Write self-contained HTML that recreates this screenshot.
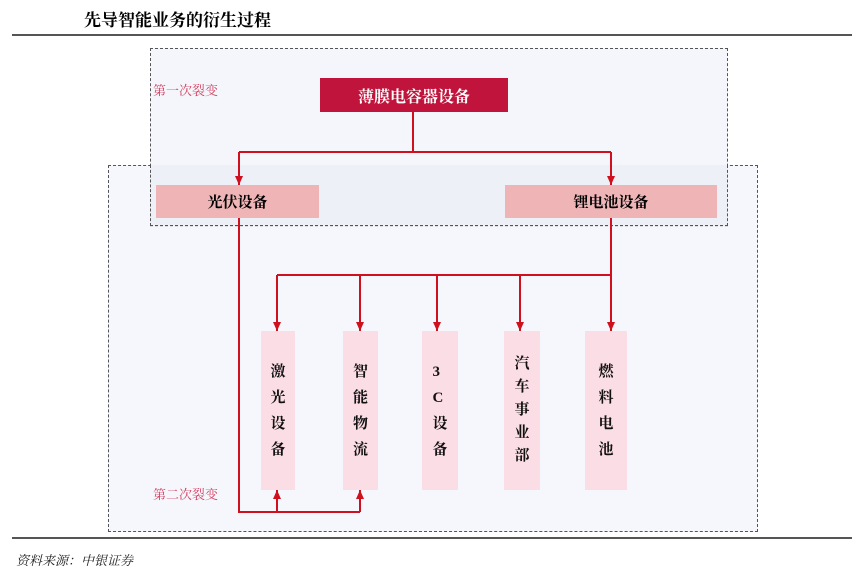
<!DOCTYPE html>
<html><head><meta charset="utf-8"><style>
body{margin:0;width:864px;height:579px;background:#fff;position:relative;overflow:hidden;font-family:"Liberation Serif","Noto Serif CJK SC",serif}
.a{position:absolute}
.t{font-weight:bold;font-size:17px;color:#000}
.vb{position:absolute;background:#fadde5;display:flex;flex-direction:column;align-items:center;justify-content:center;font-weight:bold;font-size:15px;line-height:26px;color:#111}
</style></head><body>
<div class="a t" style="left:84px;top:6px">先导智能业务的衍生过程</div>
<div class="a" style="left:12px;top:34px;width:840px;height:2px;background:#555"></div>
<div class="a" style="left:150px;top:48px;width:576px;height:177px;border:1px dashed #555;background:#f5f6fb"></div>
<div class="a" style="left:108px;top:165px;width:648px;height:365px;border:1px dashed #555;background:rgba(245,246,251,0.85)"></div>
<div class="a" style="left:150px;top:165px;width:576px;height:60px;border:1px dashed #555;border-top:none;background:#eef0f8"></div>
<div class="a" style="left:153px;top:80px;color:#d24060;font-size:13px">第一次裂变</div>
<div class="a" style="left:153px;top:484px;color:#d24060;font-size:13px">第二次裂变</div>
<div class="a" style="left:320px;top:78px;width:188px;height:34px;background:#c0143c;color:#fff;font-weight:bold;font-size:16px;display:flex;align-items:center;justify-content:center">薄膜电容器设备</div>
<div class="a" style="left:156px;top:185px;width:163px;height:33px;background:#eeb4b6;font-weight:bold;font-size:15px;display:flex;align-items:center;justify-content:center">光伏设备</div>
<div class="a" style="left:505px;top:185px;width:212px;height:33px;background:#eeb4b6;font-weight:bold;font-size:15px;display:flex;align-items:center;justify-content:center">锂电池设备</div>
<div class="vb" style="left:261px;top:331px;width:34px;height:159px">激<br>光<br>设<br>备</div>
<div class="vb" style="left:343px;top:331px;width:35px;height:159px">智<br>能<br>物<br>流</div>
<div class="vb" style="left:422px;top:331px;width:36px;height:159px">3<br>C<br>设<br>备</div>
<div class="vb" style="left:504px;top:331px;width:36px;height:159px;line-height:23px">汽<br>车<br>事<br>业<br>部</div>
<div class="vb" style="left:585px;top:331px;width:42px;height:159px">燃<br>料<br>电<br>池</div>
<svg class="a" style="left:0;top:0" width="864" height="579">
<defs><marker id="m" markerWidth="8" markerHeight="8" refX="4" refY="7" orient="auto-start-reverse" markerUnits="userSpaceOnUse" viewBox="0 0 8 8"><path d="M0,0 L8,0 L4,8z" fill="#d0101e" transform="rotate(0)"/></marker>
<marker id="d" markerWidth="8" markerHeight="9" refX="4" refY="9" orient="0" markerUnits="userSpaceOnUse" viewBox="0 0 8 9"><path d="M0,0 L8,0 L4,9z" fill="#d0101e"/></marker>
<marker id="u" markerWidth="8" markerHeight="9" refX="4" refY="0" orient="0" markerUnits="userSpaceOnUse" viewBox="0 0 8 9"><path d="M0,9 L8,9 L4,0z" fill="#d0101e"/></marker></defs>
<g stroke="#d0101e" stroke-width="2" fill="none">
<path d="M413,112V152"/><path d="M239,152H611"/>
<path d="M239,152V185" marker-end="url(#d)"/><path d="M611,152V185" marker-end="url(#d)"/>
<path d="M239,218V512H360"/>
<path d="M277,512V490" marker-end="url(#u)"/><path d="M360,512V490" marker-end="url(#u)"/>
<path d="M611,218V331" marker-end="url(#d)"/><path d="M277,275H611"/>
<path d="M277,275V331" marker-end="url(#d)"/><path d="M360,275V331" marker-end="url(#d)"/>
<path d="M437,275V331" marker-end="url(#d)"/><path d="M520,275V331" marker-end="url(#d)"/>
</g></svg>
<div class="a" style="left:12px;top:537px;width:840px;height:2px;background:#555"></div>
<div class="a" style="left:16px;top:550px;font-size:13px;font-style:italic;color:#222">资料来源：中银证券</div>
</body></html>
